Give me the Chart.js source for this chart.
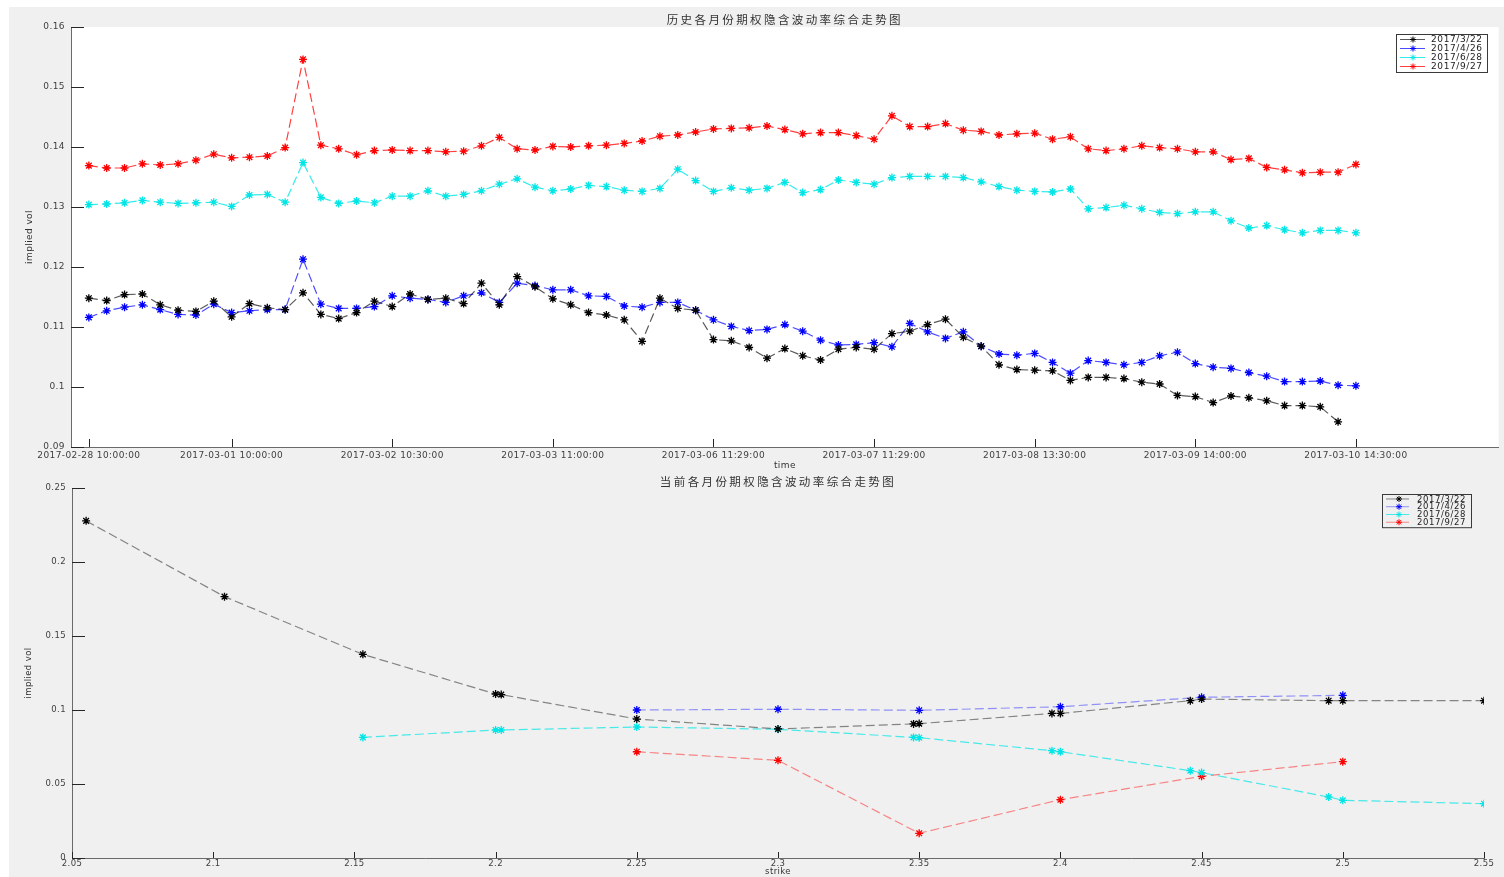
<!DOCTYPE html>
<html>
<head>
<meta charset="utf-8">
<title>隐含波动率走势</title>
<script src="https://cdn.jsdelivr.net/npm/chart.js@4/dist/chart.umd.min.js"></script>
<style>
  html, body { margin: 0; padding: 0; background: #fff; }
  body { width: 1504px; height: 877px; position: relative; overflow: hidden; }
  #fig { position: absolute; left: 9px; top: 7px; right: 0; bottom: 0; background: #f0f0f0; }
  .panel { position: absolute; left: 0; width: 1504px; }
  #top { top: 0; height: 472px; }
  #bottom { top: 472px; height: 405px; }
</style>
</head>
<body>
<div id="fig"></div>
<div class="panel" id="top"><canvas id="history"></canvas></div>
<div class="panel" id="bottom"><canvas id="current"></canvas></div>
<script>
// expiry months
const seriesNames = ['2017/3/22', '2017/4/26', '2017/6/28', '2017/9/27'];
const markColors = ['#000000', '#0000ff', '#00e5e5', '#ff0000'];
const lineColorsTop = ['rgba(0,0,0,0.65)', 'rgba(0,0,255,0.7)', 'rgba(0,230,230,0.8)', 'rgba(255,0,0,0.75)'];
const lineColorsBottom = ['rgba(0,0,0,0.45)', 'rgba(0,0,255,0.4)', 'rgba(0,230,230,0.7)', 'rgba(255,0,0,0.45)'];

// time axis: samples numbered from 1
const timeTicks = [1, 9, 18, 27, 36, 45, 54, 63, 72];
const timeLabels = ['2017-02-28 10:00:00', '2017-03-01 10:00:00', '2017-03-02 10:30:00',
  '2017-03-03 11:00:00', '2017-03-06 11:29:00', '2017-03-07 11:29:00',
  '2017-03-08 13:30:00', '2017-03-09 14:00:00', '2017-03-10 14:30:00'];
const volTicksTop = [0.09, 0.10, 0.11, 0.12, 0.13, 0.14, 0.15, 0.16];

const hist0322 = [
  0.1148, 0.1144, 0.1154, 0.1155, 0.1137, 0.1128, 0.1126, 0.1143, 0.1117, 0.1139,
  0.1132, 0.1129, 0.1157, 0.1121, 0.1114, 0.1124, 0.1143, 0.1134, 0.1155, 0.1146,
  0.1148, 0.1139, 0.1173, 0.1137, 0.1184, 0.1167, 0.1147, 0.1137, 0.1124, 0.1120,
  0.1112, 0.1076, 0.1148, 0.1131, 0.1128, 0.1079, 0.1077, 0.1066, 0.1048, 0.1064,
  0.1052, 0.1045, 0.1063, 0.1066, 0.1063, 0.1089, 0.1093, 0.1104, 0.1113, 0.1083,
  0.1068, 0.1037, 0.1029, 0.1028, 0.1027, 0.1011, 0.1016, 0.1016, 0.1014, 0.1008,
  0.1005, 0.0986, 0.0984, 0.0974, 0.0985, 0.0982, 0.0977, 0.0969, 0.0969, 0.0967,
  0.0942];
const hist0426 = [
  0.1116, 0.1127, 0.1133, 0.1137, 0.1129, 0.1121, 0.1120, 0.1138, 0.1124, 0.1127,
  0.1129, 0.1129, 0.1213, 0.1138, 0.1131, 0.1131, 0.1134, 0.1152, 0.1148, 0.1146,
  0.1141, 0.1152, 0.1157, 0.1141, 0.1173, 0.1169, 0.1162, 0.1162, 0.1152, 0.1151,
  0.1135, 0.1133, 0.1141, 0.1141, 0.1128, 0.1112, 0.1101, 0.1094, 0.1096, 0.1104,
  0.1093, 0.1078, 0.1070, 0.1071, 0.1074, 0.1067, 0.1106, 0.1092, 0.1081, 0.1092,
  0.1068, 0.1055, 0.1053, 0.1056, 0.1041, 0.1023, 0.1044, 0.1041, 0.1037, 0.1041,
  0.1052, 0.1058, 0.1039, 0.1033, 0.1031, 0.1024, 0.1018, 0.1009, 0.1009, 0.1010,
  0.1003, 0.1002];
const hist0628 = [
  0.1304, 0.1305, 0.1307, 0.1311, 0.1308, 0.1306, 0.1307, 0.1308, 0.1301, 0.1320,
  0.1321, 0.1308, 0.1374, 0.1316, 0.1306, 0.1310, 0.1307, 0.1318, 0.1318, 0.1327,
  0.1318, 0.1321, 0.1327, 0.1338, 0.1347, 0.1333, 0.1327, 0.1330, 0.1336, 0.1334,
  0.1328, 0.1326, 0.1331, 0.1363, 0.1344, 0.1326, 0.1332, 0.1328, 0.1331, 0.1341,
  0.1324, 0.1329, 0.1345, 0.1341, 0.1338, 0.1349, 0.1351, 0.1351, 0.1351, 0.1349,
  0.1342, 0.1334, 0.1328, 0.1326, 0.1325, 0.1330, 0.1297, 0.1299, 0.1303, 0.1297,
  0.1291, 0.1289, 0.1292, 0.1292, 0.1277, 0.1265, 0.1269, 0.1262, 0.1257, 0.1261,
  0.1261, 0.1257];
const hist0927 = [
  0.1369, 0.1365, 0.1365, 0.1372, 0.1370, 0.1372, 0.1378, 0.1388, 0.1382, 0.1383,
  0.1385, 0.1399, 0.1546, 0.1403, 0.1397, 0.1387, 0.1394, 0.1395, 0.1394, 0.1394,
  0.1392, 0.1393, 0.1402, 0.1416, 0.1397, 0.1395, 0.1401, 0.1400, 0.1402, 0.1403,
  0.1406, 0.1410, 0.1418, 0.1420, 0.1425, 0.1430, 0.1431, 0.1432, 0.1435, 0.1429,
  0.1422, 0.1424, 0.1424, 0.1419, 0.1413, 0.1452, 0.1434, 0.1434, 0.1439, 0.1428,
  0.1426, 0.1420, 0.1422, 0.1423, 0.1413, 0.1417, 0.1397, 0.1394, 0.1397, 0.1402,
  0.1399, 0.1397, 0.1392, 0.1392, 0.1379, 0.1381, 0.1366, 0.1362, 0.1357, 0.1358,
  0.1358, 0.1371];

// current smile against strike
const strikeTicks = [2.05, 2.1, 2.15, 2.2, 2.25, 2.3, 2.35, 2.4, 2.45, 2.5, 2.55];
const volTicksBottom = [0, 0.05, 0.1, 0.15, 0.2, 0.25];
const strike0322 = [2.055, 2.104, 2.153, 2.2, 2.202, 2.25, 2.3, 2.348, 2.35, 2.397, 2.4, 2.446, 2.45, 2.495, 2.5, 2.55];
const smile0322 = [0.2278, 0.1766, 0.1376, 0.1108, 0.1104, 0.0939, 0.0872, 0.0906, 0.0908, 0.0977, 0.0977, 0.1063, 0.1074, 0.1063, 0.1063, 0.1063];
const strike0426 = [2.25, 2.3, 2.35, 2.4, 2.45, 2.5];
const smile0426 = [0.1000, 0.1005, 0.0998, 0.1022, 0.1086, 0.1099];
const strike0628 = [2.153, 2.2, 2.202, 2.25, 2.3, 2.348, 2.35, 2.397, 2.4, 2.446, 2.45, 2.495, 2.5, 2.55];
const smile0628 = [0.0815, 0.0865, 0.0865, 0.0885, 0.0870, 0.0815, 0.0813, 0.0725, 0.0718, 0.0590, 0.0577, 0.0412, 0.0390, 0.0367];
const strike0927 = [2.25, 2.3, 2.35, 2.4, 2.45, 2.5];
const smile0927 = [0.0718, 0.0660, 0.0167, 0.0394, 0.0552, 0.0651];

const FONT = 'DejaVu Sans';
const TEXT = '#404040';

function asterisk(ctx, x, y, r) {
  ctx.beginPath();
  ctx.moveTo(x - r, y); ctx.lineTo(x + r, y);
  ctx.moveTo(x, y - r); ctx.lineTo(x, y + r);
  const d = r * 0.7071;
  ctx.moveTo(x - d, y - d); ctx.lineTo(x + d, y + d);
  ctx.moveTo(x - d, y + d); ctx.lineTo(x + d, y - d);
  ctx.stroke();
}

// plot background, inward ticks, title and boxed legend
const axesDecor = {
  id: 'axesDecor',
  beforeDraw(chart, args, o) {
    const { ctx, chartArea: a } = chart;
    ctx.letterSpacing = '0.4px';
    if (o.plotColor) {
      ctx.save();
      ctx.fillStyle = o.plotColor;
      ctx.fillRect(a.left, a.top, a.right - a.left, a.bottom - a.top);
      ctx.restore();
    }
  },
  beforeDatasetsDraw(chart, args, o) {
    const { ctx, chartArea: a, scales } = chart;
    ctx.save();
    ctx.strokeStyle = '#262626';
    ctx.lineWidth = 1;
    ctx.beginPath();
    scales.y.ticks.forEach(t => {
      const py = Math.round(scales.y.getPixelForValue(t.value)) + 0.5;
      ctx.moveTo(a.left, py); ctx.lineTo(a.left + o.yTickLen, py);
    });
    scales.x.ticks.forEach(t => {
      const px = Math.round(scales.x.getPixelForValue(t.value)) + 0.5;
      ctx.moveTo(px, a.bottom); ctx.lineTo(px, a.bottom - o.xTickLen);
    });
    ctx.stroke();
    ctx.restore();
  },
  afterDraw(chart, args, o) {
    const { ctx, chartArea: a } = chart;
    ctx.save();
    // title over the axes
    ctx.font = '11.5px "Noto Sans CJK SC"';
    ctx.letterSpacing = '2.4px';
    ctx.fillStyle = '#333';
    ctx.textAlign = 'center';
    ctx.textBaseline = 'middle';
    ctx.fillText(o.title, (a.left + a.right) / 2, o.titleY);

    // legend box
    const L = o.legend;
    const h = L.rowHeight * seriesNames.length + L.padY * 2;
    const x0 = Math.round(a.right - L.right - L.width);
    const y0 = Math.round(a.top + L.top);
    ctx.fillStyle = L.fill;
    ctx.fillRect(x0, y0, L.width, h);
    ctx.strokeStyle = '#3a3a3a';
    ctx.lineWidth = 1;
    ctx.strokeRect(x0 + 0.5, y0 + 0.5, L.width, h);
    ctx.font = L.font;
    ctx.letterSpacing = '0.6px';
    ctx.textAlign = 'left';
    seriesNames.forEach((name, i) => {
      const y = y0 + L.padY + L.rowHeight * (i + 0.5);
      ctx.strokeStyle = o.lineColors[i];
      ctx.beginPath();
      ctx.moveTo(x0 + 4, y); ctx.lineTo(x0 + L.lineEnd, y);
      ctx.stroke();
      ctx.strokeStyle = markColors[i];
      asterisk(ctx, x0 + 17, y, 3);
      ctx.fillStyle = '#222';
      ctx.fillText(name, x0 + 35, y + 0.5);
    });
    ctx.restore();
  }
};

function series(i, xs, ys, lineColors) {
  return {
    label: seriesNames[i],
    data: ys.map((v, k) => ({ x: xs[k], y: v })),
    borderColor: lineColors[i],
    borderWidth: 1.2,
    borderDash: [9, 4],
    pointStyle: 'star',
    pointRadius: 4,
    pointHoverRadius: 4,
    pointBorderColor: markColors[i],
    pointBorderWidth: 1.3,
    fill: false,
    tension: 0
  };
}

function sampleNo(values) {
  return values.map((v, k) => k + 1);
}

function axis(opts) {
  return {
    type: 'linear',
    min: opts.min,
    max: opts.max,
    afterBuildTicks: s => { s.ticks = opts.ticks.map(v => ({ value: v })); },
    afterFit: opts.fit,
    grid: { drawOnChartArea: false, drawTicks: false },
    border: { color: '#6a6a6a', width: 1 },
    ticks: {
      autoSkip: false,
      maxRotation: 0,
      padding: opts.pad,
      color: TEXT,
      font: { family: FONT, size: opts.size },
      callback: opts.label
    },
    title: {
      display: true,
      text: opts.title,
      color: '#333',
      font: { family: FONT, size: opts.size },
      padding: opts.titlePad
    }
  };
}

new Chart(document.getElementById('history'), {
  type: 'line',
  data: {
    datasets: [
      series(0, sampleNo(hist0322), hist0322, lineColorsTop),
      series(1, sampleNo(hist0426), hist0426, lineColorsTop),
      series(2, sampleNo(hist0628), hist0628, lineColorsTop),
      series(3, sampleNo(hist0927), hist0927, lineColorsTop)
    ]
  },
  options: {
    responsive: true,
    maintainAspectRatio: false,
    animation: false,
    events: [],
    layout: { padding: { top: 27, right: 2, left: 0, bottom: 0 } },
    plugins: {
      legend: { display: false },
      tooltip: { enabled: false },
      axesDecor: {
        plotColor: '#ffffff',
        yTickLen: 13,
        xTickLen: 8,
        title: '历史各月份期权隐含波动率综合走势图',
        titleY: 20,
        lineColors: lineColorsTop,
        legend: { width: 91, rowHeight: 9, padY: 1, right: 12, top: 7, lineEnd: 29, fill: '#ffffff', font: '9px "DejaVu Sans"' }
      }
    },
    scales: {
      x: axis({
        min: 0, max: 80, ticks: timeTicks, size: 9, pad: 3,
        fit: s => { s.height = 25; },
        label: v => timeLabels[timeTicks.indexOf(v)],
        title: 'time', titlePad: { top: 0, bottom: 1 }
      }),
      y: axis({
        min: 0.09, max: 0.16, ticks: volTicksTop, size: 9, pad: 6,
        fit: s => { s.width = 71; },
        label: v => String(+v.toFixed(2)),
        title: 'implied vol', titlePad: { top: 24, bottom: 0 }
      })
    }
  },
  plugins: [axesDecor]
});

new Chart(document.getElementById('current'), {
  type: 'line',
  data: {
    datasets: [
      series(0, strike0322, smile0322, lineColorsBottom),
      series(1, strike0426, smile0426, lineColorsBottom),
      series(2, strike0628, smile0628, lineColorsBottom),
      series(3, strike0927, smile0927, lineColorsBottom)
    ]
  },
  options: {
    responsive: true,
    maintainAspectRatio: false,
    animation: false,
    events: [],
    layout: { padding: { top: 16, right: 20, left: 0, bottom: 0 } },
    plugins: {
      legend: { display: false },
      tooltip: { enabled: false },
      axesDecor: {
        plotColor: null,
        yTickLen: 13,
        xTickLen: 6,
        title: '当前各月份期权隐含波动率综合走势图',
        titleY: 10,
        lineColors: lineColorsBottom,
        legend: { width: 89, rowHeight: 7.75, padY: 1.1, right: 13, top: 6, lineEnd: 27, fill: '#f0f0f0', font: '8.5px "DejaVu Sans"' }
      }
    },
    scales: {
      x: axis({
        min: 2.05, max: 2.55, ticks: strikeTicks, size: 8.5, pad: 1,
        fit: s => { s.height = 19; },
        label: v => String(+v.toFixed(2)),
        title: 'strike', titlePad: { top: 0, bottom: 0 }
      }),
      y: axis({
        min: 0, max: 0.25, ticks: volTicksBottom, size: 8.5, pad: 6,
        fit: s => { s.width = 72; },
        label: v => String(+v.toFixed(2)),
        title: 'implied vol', titlePad: { top: 24, bottom: 0 }
      })
    }
  },
  plugins: [axesDecor]
});
</script>
</body>
</html>
